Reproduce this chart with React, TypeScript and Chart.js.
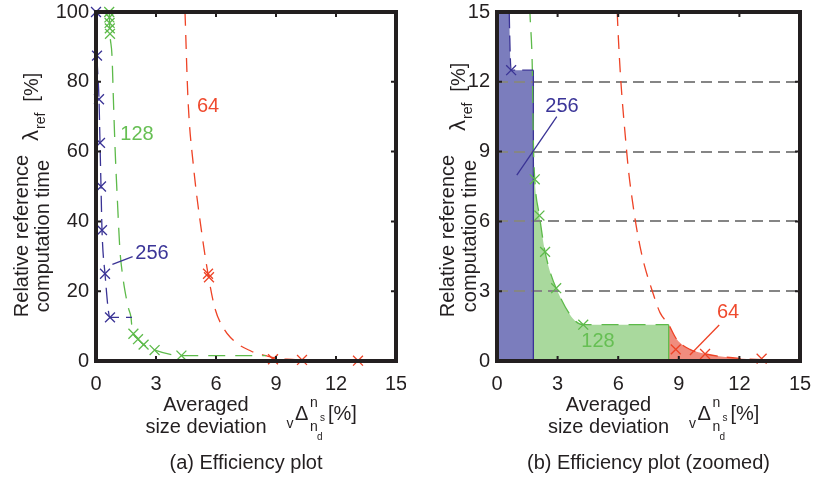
import React, { useEffect, useRef } from 'react';
import { Chart, registerables } from 'chart.js';

Chart.register(...registerables);

const FONT_FAMILY = '"Liberation Sans", Arial, Helvetica, sans-serif';
const INK = '#231f20';
const BLUE = '#3a3395';
const GREEN = '#5dba4a';
const RED = '#ee4326';
const BLUE_FILL = '#7b7dbd';
const GREEN_FILL = '#a9d99d';
const RED_FILL = '#f08c7e';
const GRID = '#858585';

// ---- tick labels ----
const xTickValues = [0, 3, 6, 9, 12, 15];
const yTickValuesFull = [0, 20, 40, 60, 80, 100];
const yTickValuesZoom = [0, 3, 6, 9, 12, 15];
const zoomGridValues = [3, 6, 9, 12];

// ---- series "256" ----
const blueLineX = [0, 0.05, 0.15, 0.2, 0.25, 0.3, 0.45, 0.7, 1.8];
const blueLineY = [100, 87.5, 75, 62.5, 50, 37.5, 25, 12.5, 12.5];
const blueMarkX = [0, 0.05, 0.15, 0.2, 0.25, 0.3, 0.45, 0.7];
const blueMarkY = [100, 87.5, 75, 62.5, 50, 37.5, 25, 12.5];

// ---- series "128" ----
const greenLineX = [0.66, 0.67, 0.68, 0.69, 0.7, 0.8, 0.87, 0.96, 1.07, 1.2, 1.32, 1.45, 1.63, 1.75, 1.8, 1.87, 2.1, 2.38, 2.93, 4.27, 8.5];
const greenLineY = [100, 98.44, 96.88, 95.31, 93.75, 87.5, 75, 60, 46, 31.5, 25, 20, 15, 12.5, 9.4, 7.81, 6.25, 4.69, 3.13, 1.56, 1.56];
const greenMarkX = [0.66, 0.67, 0.68, 0.69, 0.7, 1.87, 2.1, 2.38, 2.93, 4.27];
const greenMarkY = [100, 98.44, 96.88, 95.31, 93.75, 7.81, 6.25, 4.69, 3.13, 1.56];

// ---- series "64" ----
const redLineX = [4.45, 4.6, 4.87, 5.28, 5.6, 5.95, 6.42, 6.75, 7.16, 7.74, 8.07, 8.5, 8.9, 9.55, 10.4, 12, 15];
const redLineY = [100, 75, 56, 37, 25, 15, 9, 6.6, 4.6, 2.87, 2.08, 1.56, 0.93, 0.5, 0.29, 0.11, 0.03];
const redMarkX = [5.6, 5.65, 8.85, 10.3, 13.1];
const redMarkY = [25, 24, 0.5, 0.3, 0.1];

// ---- efficiency frontier (zoomed panel) ----
const frontierX = [1.8, 8.5];
const frontierTop = [12.5, 1.56];

const seriesNames = ['256', '128', '64'];

type Pt = { x: number; y: number };
const zip = (xs: number[], ys: number[]): Pt[] => xs.map((x, i) => ({ x, y: ys[i] }));

type Panel = {
  key: string;
  zoomed: boolean;
  yMax: number;
  yTicks: number[];
  yAxisWidth: number;
  padRight: number;
  left: number;
  width: number;
  title: string;
  relRefDX: number;
  compDX: number;
  lambdaDX: number;
  lambdaStartY: number;
  notes: { text: number; x: number; y: number }[];
  leaders: { color: string; x1: number; y1: number; x2: number; y2: number }[];
};

const NOTE_COLORS = ['#3b3598', '#66bf53', '#ef4a2e'];

const PANELS: Panel[] = [
  {
    key: 'a', zoomed: false, yMax: 100, yTicks: yTickValuesFull, yAxisWidth: 96, padRight: 10,
    left: 0, width: 406, title: '(a) Efficiency plot',
    relRefDX: -74, compDX: -53, lambdaDX: -58, lambdaStartY: 141,
    notes: [
      { text: 0, x: 2.8, y: 30.9 },
      { text: 1, x: 2.05, y: 64.8 },
      { text: 2, x: 5.6, y: 72.8 },
    ],
    leaders: [{ color: BLUE, x1: 0.82, y1: 27.7, x2: 1.83, y2: 29.9 }],
  },
  {
    key: 'b', zoomed: true, yMax: 15, yTicks: yTickValuesZoom, yAxisWidth: 91, padRight: 13,
    left: 406, width: 407, title: '(b) Efficiency plot (zoomed)',
    relRefDX: -49, compDX: -27, lambdaDX: -32, lambdaStartY: 131,
    notes: [
      { text: 0, x: 3.22, y: 10.96 },
      { text: 1, x: 5.0, y: 0.82 },
      { text: 2, x: 11.44, y: 2.1 },
    ],
    leaders: [
      { color: BLUE, x1: 2.96, y1: 10.5, x2: 0.98, y2: 7.99 },
      { color: RED, x1: 11.0, y1: 1.55, x2: 9.55, y2: 0.26 },
    ],
  },
];

function text(ctx: CanvasRenderingContext2D, s: string, x: number, y: number, size: number, color: string, align: CanvasTextAlign = 'center', baseline: CanvasTextBaseline = 'middle') {
  ctx.font = `${size}px ${FONT_FAMILY}`;
  ctx.fillStyle = color;
  ctx.textAlign = align;
  ctx.textBaseline = baseline;
  ctx.fillText(s, x, y);
}

function buildDatasets(panel: Panel) {
  const lineDs = (pts: Pt[], color: string, dash: number[]) => ({
    data: pts, borderColor: color, backgroundColor: color, borderWidth: 1.3, borderDash: dash,
    pointRadius: 0, pointHoverRadius: 0, fill: false, showLine: true, cubicInterpolationMode: 'monotone',
  });
  const markDs = (pts: Pt[], color: string) => ({
    data: pts, showLine: false, pointStyle: 'crossRot', pointRadius: 7, pointHoverRadius: 7,
    pointBorderWidth: 1.3, pointBorderColor: color, pointBackgroundColor: color,
    borderColor: color, backgroundColor: color, fill: false, clip: false,
  });
  const divDs = (pts: Pt[], color: string) => ({
    data: pts, borderColor: color, backgroundColor: color, borderWidth: 1.3, pointRadius: 0,
    fill: false, showLine: true, tension: 0,
  });
  const fillDs = (pts: Pt[], color: string) => ({
    data: pts, borderColor: 'rgba(0,0,0,0)', borderWidth: 0, backgroundColor: color, pointRadius: 0,
    fill: 'origin', showLine: true, cubicInterpolationMode: 'monotone',
  });

  const blueLine = zip(blueLineX, blueLineY);
  const greenLine = zip(greenLineX, greenLineY);
  const redLine = zip(redLineX, redLineY);

  const top: any[] = [
    markDs(zip(blueMarkX, blueMarkY), BLUE),
    markDs(zip(greenMarkX, greenMarkY), GREEN),
    markDs(zip(redMarkX, redMarkY), RED),
    lineDs(blueLine, BLUE, [16, 7]),
    lineDs(greenLine, GREEN, [17, 10]),
    lineDs(redLine, RED, [14, 9]),
  ];
  if (!panel.zoomed) return { datasets: top, gridIndex: -1 };
  top.push(
    divDs([{ x: frontierX[0], y: frontierTop[0] }, { x: frontierX[0], y: 0 }], BLUE),
    divDs([{ x: frontierX[1], y: frontierTop[1] }, { x: frontierX[1], y: 0 }], GREEN),
  );
  const gridIndex = top.length - 1;
  const fills = [
    fillDs(blueLine.filter((p) => p.x <= frontierX[0]), BLUE_FILL),
    fillDs(greenLine.filter((p) => p.x >= frontierX[0] && p.x <= frontierX[1]), GREEN_FILL),
    fillDs(redLine.filter((p) => p.x >= frontierX[1]), RED_FILL),
  ];
  return { datasets: [...top, ...fills], gridIndex };
}

function makeChart(canvas: HTMLCanvasElement, panel: Panel) {
  const { datasets, gridIndex } = buildDatasets(panel);
  const tickFont = { family: FONT_FAMILY, size: 20 };

  const decor = {
    id: 'decor_' + panel.key,
    beforeDatasetDraw(chart: any, args: any) {
      if (args.index !== gridIndex) return;
      const { ctx, chartArea: ca, scales } = chart;
      ctx.save();
      ctx.strokeStyle = GRID;
      ctx.lineWidth = 2;
      ctx.setLineDash([11, 6]);
      zoomGridValues.forEach((v) => {
        const py = Math.round(scales.y.getPixelForValue(v));
        ctx.beginPath();
        ctx.moveTo(ca.left, py);
        ctx.lineTo(ca.right, py);
        ctx.stroke();
      });
      ctx.restore();
    },
    afterDatasetsDraw(chart: any) {
      const { ctx, scales } = chart;
      const X = (v: number) => scales.x.getPixelForValue(v);
      const Y = (v: number) => scales.y.getPixelForValue(v);
      ctx.save();
      panel.leaders.forEach((l) => {
        ctx.strokeStyle = l.color;
        ctx.lineWidth = 1.3;
        ctx.setLineDash([]);
        ctx.beginPath();
        ctx.moveTo(X(l.x1), Y(l.y1));
        ctx.lineTo(X(l.x2), Y(l.y2));
        ctx.stroke();
      });
      panel.notes.forEach((n) => {
        text(ctx, seriesNames[n.text], X(n.x), Y(n.y), 20, NOTE_COLORS[n.text]);
      });
      ctx.restore();
    },
    afterDraw(chart: any) {
      const { ctx, chartArea: ca, scales } = chart;
      ctx.save();
      // frame
      ctx.strokeStyle = INK;
      ctx.lineWidth = 4;
      ctx.setLineDash([]);
      ctx.strokeRect(ca.left, ca.top, ca.right - ca.left, ca.bottom - ca.top);
      // inward tick marks
      ctx.lineWidth = 2;
      ctx.beginPath();
      xTickValues.forEach((v) => {
        const px = scales.x.getPixelForValue(v);
        ctx.moveTo(px, ca.top); ctx.lineTo(px, ca.top + 5);
        ctx.moveTo(px, ca.bottom); ctx.lineTo(px, ca.bottom - 5);
      });
      panel.yTicks.forEach((v) => {
        const py = scales.y.getPixelForValue(v);
        ctx.moveTo(ca.left, py); ctx.lineTo(ca.left + 5, py);
        ctx.moveTo(ca.right, py); ctx.lineTo(ca.right - 5, py);
      });
      ctx.stroke();

      const cx = (ca.left + ca.right) / 2;
      // x axis label
      text(ctx, 'Averaged', cx - 40, 405, 20, INK);
      text(ctx, 'size deviation', cx - 40, 427, 20, INK);
      text(ctx, 'v', cx + 44, 424, 14, INK);
      text(ctx, 'Δ', cx + 49, 414, 20, INK, 'left');
      text(ctx, 'n', cx + 64, 403, 14, INK, 'left');
      text(ctx, 's', cx + 74, 418, 10, INK, 'left');
      text(ctx, 'n', cx + 64, 427, 14, INK, 'left');
      text(ctx, 'd', cx + 71, 437, 10, INK, 'left');
      text(ctx, '[%]', cx + 82, 414, 20, INK, 'left');
      // caption
      text(ctx, panel.title, cx, 463, 20, INK);

      // y axis label (rotated)
      const rot = (x: number, y: number, fn: () => void) => {
        ctx.save();
        ctx.translate(x, y);
        ctx.rotate(-Math.PI / 2);
        fn();
        ctx.restore();
      };
      rot(ca.left + panel.relRefDX, 236, () => text(ctx, 'Relative reference', 0, 0, 20, INK));
      rot(ca.left + panel.compDX, 236, () => text(ctx, 'computation time', 0, 0, 20, INK));
      rot(ca.left + panel.lambdaDX, panel.lambdaStartY, () => {
        text(ctx, 'λ', 0, 0, 22, INK, 'left', 'alphabetic');
        const w1 = ctx.measureText('λ').width;
        text(ctx, 'ref', w1 + 1, 7, 14, INK, 'left', 'alphabetic');
        const w2 = ctx.measureText('ref').width;
        text(ctx, '[%]', w1 + w2 + 12, 0, 20, INK, 'left', 'alphabetic');
      });
      ctx.restore();
    },
  };

  return new Chart(canvas, {
    type: 'line',
    data: { datasets },
    options: {
      animation: false,
      responsive: false,
      maintainAspectRatio: false,
      devicePixelRatio: 1,
      events: [],
      layout: { padding: { left: 0, top: 12, right: panel.padRight, bottom: 0 } },
      plugins: { legend: { display: false }, tooltip: { enabled: false }, title: { display: false } },
      scales: {
        x: {
          type: 'linear', min: 0, max: 15,
          afterBuildTicks: (s: any) => { s.ticks = xTickValues.map((v) => ({ value: v })); },
          afterFit: (s: any) => { s.height = 120; s.paddingLeft = 0; s.paddingRight = 0; },
          grid: { display: false, drawTicks: false },
          border: { display: false },
          ticks: { font: tickFont, color: INK, padding: 11, maxRotation: 0, autoSkip: false },
        },
        y: {
          type: 'linear', min: 0, max: panel.yMax,
          afterBuildTicks: (s: any) => { s.ticks = panel.yTicks.map((v) => ({ value: v })); },
          afterFit: (s: any) => { s.width = panel.yAxisWidth; s.paddingTop = 0; s.paddingBottom = 0; },
          grid: { display: false, drawTicks: false },
          border: { display: false },
          ticks: { font: tickFont, color: INK, padding: 7, autoSkip: false },
        },
      },
    } as any,
    plugins: [decor],
  } as any);
}

function PanelChart({ panel }: { panel: Panel }) {
  const ref = useRef<HTMLCanvasElement | null>(null);
  useEffect(() => {
    if (!ref.current) return;
    const chart = makeChart(ref.current, panel);
    return () => chart.destroy();
  }, [panel]);
  return (
    <canvas
      ref={ref}
      width={panel.width}
      height={481}
      style={{ position: 'absolute', left: panel.left, top: 0, width: panel.width, height: 481 }}
    />
  );
}

export default function App() {
  return (
    <div style={{ position: 'fixed', left: 0, top: 0, width: 813, height: 481, background: '#ffffff' }}>
      {PANELS.map((p) => (
        <PanelChart key={p.key} panel={p} />
      ))}
    </div>
  );
}
